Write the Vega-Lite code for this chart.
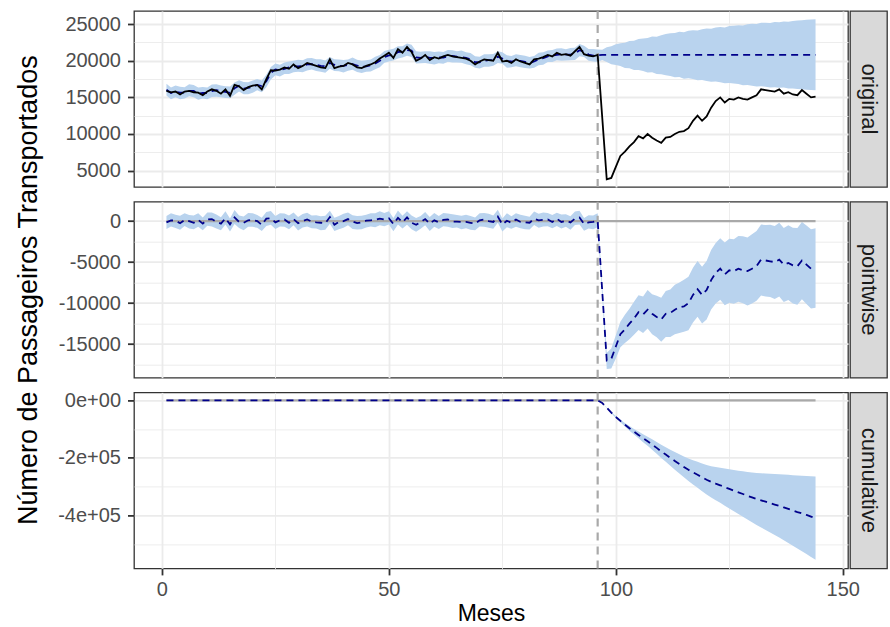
{
  "$schema": "https://vega.github.io/schema/vega-lite/v6.json",
  "background": "white",
  "padding": {"left": 13, "top": 9, "right": 0, "bottom": 0},
  "datasets": {
    "base": [{"t": 1, "base": 0}, {"t": 144, "base": 0}],
    "d": [
      {"t":1,"obs":15900,"pred":16050,"plo":15270,"phi":16870,"pw":-150,"pwlo":-970,"pwhi":630,"cum":0,"cumlo":0,"cumhi":0},
      {"t":2,"obs":15700,"pred":15600,"plo":14750,"phi":16360,"pw":100,"pwlo":-660,"pwhi":950,"cum":0,"cumlo":0,"cumhi":0},
      {"t":3,"obs":15800,"pred":15750,"plo":15030,"phi":16630,"pw":50,"pwlo":-830,"pwhi":770,"cum":0,"cumlo":0,"cumhi":0},
      {"t":4,"obs":15400,"pred":15650,"plo":14750,"phi":16450,"pw":-250,"pwlo":-1050,"pwhi":650,"cum":0,"cumlo":0,"cumhi":0},
      {"t":5,"obs":15800,"pred":15650,"plo":14850,"phi":16390,"pw":150,"pwlo":-590,"pwhi":950,"cum":0,"cumlo":0,"cumhi":0},
      {"t":6,"obs":15900,"pred":15900,"plo":15140,"phi":16800,"pw":0,"pwlo":-900,"pwhi":760,"cum":0,"cumlo":0,"cumhi":0},
      {"t":7,"obs":15700,"pred":15900,"plo":15020,"phi":16680,"pw":-200,"pwlo":-980,"pwhi":680,"cum":0,"cumlo":0,"cumhi":0},
      {"t":8,"obs":15650,"pred":15500,"plo":14680,"phi":16350,"pw":150,"pwlo":-700,"pwhi":970,"cum":0,"cumlo":0,"cumhi":0},
      {"t":9,"obs":15300,"pred":15600,"plo":14860,"phi":16420,"pw":-300,"pwlo":-1120,"pwhi":440,"cum":0,"cumlo":0,"cumhi":0},
      {"t":10,"obs":15800,"pred":15600,"plo":14740,"phi":16360,"pw":200,"pwlo":-560,"pwhi":1060,"cum":0,"cumlo":0,"cumhi":0},
      {"t":11,"obs":16100,"pred":15850,"plo":15050,"phi":16750,"pw":250,"pwlo":-650,"pwhi":1050,"cum":0,"cumlo":0,"cumhi":0},
      {"t":12,"obs":15900,"pred":16000,"plo":15100,"phi":16800,"pw":-100,"pwlo":-900,"pwhi":800,"cum":0,"cumlo":0,"cumhi":0},
      {"t":13,"obs":15500,"pred":15800,"plo":15020,"phi":16620,"pw":-300,"pwlo":-1120,"pwhi":480,"cum":0,"cumlo":0,"cumhi":0},
      {"t":14,"obs":16100,"pred":15750,"plo":14900,"phi":16510,"pw":350,"pwlo":-410,"pwhi":1200,"cum":0,"cumlo":0,"cumhi":0},
      {"t":15,"obs":15200,"pred":15600,"plo":14880,"phi":16480,"pw":-400,"pwlo":-1280,"pwhi":320,"cum":0,"cumlo":0,"cumhi":0},
      {"t":16,"obs":16700,"pred":16250,"plo":15350,"phi":17050,"pw":450,"pwlo":-350,"pwhi":1350,"cum":0,"cumlo":0,"cumhi":0},
      {"t":17,"obs":16500,"pred":16600,"plo":15800,"phi":17340,"pw":-100,"pwlo":-840,"pwhi":700,"cum":0,"cumlo":0,"cumhi":0},
      {"t":18,"obs":16000,"pred":16200,"plo":15440,"phi":17100,"pw":-200,"pwlo":-1100,"pwhi":560,"cum":0,"cumlo":0,"cumhi":0},
      {"t":19,"obs":16400,"pred":16300,"plo":15420,"phi":17080,"pw":100,"pwlo":-680,"pwhi":980,"cum":0,"cumlo":0,"cumhi":0},
      {"t":20,"obs":16600,"pred":16450,"plo":15630,"phi":17300,"pw":150,"pwlo":-700,"pwhi":970,"cum":0,"cumlo":0,"cumhi":0},
      {"t":21,"obs":16700,"pred":16700,"plo":15960,"phi":17520,"pw":0,"pwlo":-820,"pwhi":740,"cum":0,"cumlo":0,"cumhi":0},
      {"t":22,"obs":16100,"pred":16550,"plo":15690,"phi":17310,"pw":-450,"pwlo":-1210,"pwhi":410,"cum":0,"cumlo":0,"cumhi":0},
      {"t":23,"obs":17500,"pred":17200,"plo":16400,"phi":18100,"pw":300,"pwlo":-600,"pwhi":1100,"cum":0,"cumlo":0,"cumhi":0},
      {"t":24,"obs":18700,"pred":18350,"plo":17450,"phi":19150,"pw":350,"pwlo":-450,"pwhi":1250,"cum":0,"cumlo":0,"cumhi":0},
      {"t":25,"obs":18650,"pred":18800,"plo":18020,"phi":19620,"pw":-150,"pwlo":-970,"pwhi":630,"cum":0,"cumlo":0,"cumhi":0},
      {"t":26,"obs":18800,"pred":18700,"plo":17850,"phi":19460,"pw":100,"pwlo":-660,"pwhi":950,"cum":0,"cumlo":0,"cumhi":0},
      {"t":27,"obs":19100,"pred":18900,"plo":18180,"phi":19780,"pw":200,"pwlo":-680,"pwhi":920,"cum":0,"cumlo":0,"cumhi":0},
      {"t":28,"obs":18900,"pred":19100,"plo":18200,"phi":19900,"pw":-200,"pwlo":-1000,"pwhi":700,"cum":0,"cumlo":0,"cumhi":0},
      {"t":29,"obs":19500,"pred":19250,"plo":18450,"phi":19990,"pw":250,"pwlo":-490,"pwhi":1050,"cum":0,"cumlo":0,"cumhi":0},
      {"t":30,"obs":19000,"pred":19250,"plo":18490,"phi":20150,"pw":-250,"pwlo":-1150,"pwhi":510,"cum":0,"cumlo":0,"cumhi":0},
      {"t":31,"obs":19300,"pred":19300,"plo":18420,"phi":20080,"pw":0,"pwlo":-780,"pwhi":880,"cum":0,"cumlo":0,"cumhi":0},
      {"t":32,"obs":19700,"pred":19500,"plo":18680,"phi":20350,"pw":200,"pwlo":-650,"pwhi":1020,"cum":0,"cumlo":0,"cumhi":0},
      {"t":33,"obs":19500,"pred":19550,"plo":18810,"phi":20370,"pw":-50,"pwlo":-870,"pwhi":690,"cum":0,"cumlo":0,"cumhi":0},
      {"t":34,"obs":19300,"pred":19450,"plo":18590,"phi":20210,"pw":-150,"pwlo":-910,"pwhi":710,"cum":0,"cumlo":0,"cumhi":0},
      {"t":35,"obs":19100,"pred":19300,"plo":18500,"phi":20200,"pw":-200,"pwlo":-1100,"pwhi":600,"cum":0,"cumlo":0,"cumhi":0},
      {"t":36,"obs":19000,"pred":19250,"plo":18350,"phi":20050,"pw":-250,"pwlo":-1050,"pwhi":650,"cum":0,"cumlo":0,"cumhi":0},
      {"t":37,"obs":20200,"pred":19700,"plo":18920,"phi":20520,"pw":500,"pwlo":-320,"pwhi":1280,"cum":0,"cumlo":0,"cumhi":0},
      {"t":38,"obs":19000,"pred":19450,"plo":18600,"phi":20210,"pw":-450,"pwlo":-1210,"pwhi":400,"cum":0,"cumlo":0,"cumhi":0},
      {"t":39,"obs":19200,"pred":19300,"plo":18580,"phi":20180,"pw":-100,"pwlo":-980,"pwhi":620,"cum":0,"cumlo":0,"cumhi":0},
      {"t":40,"obs":19300,"pred":19300,"plo":18400,"phi":20100,"pw":0,"pwlo":-800,"pwhi":900,"cum":0,"cumlo":0,"cumhi":0},
      {"t":41,"obs":19700,"pred":19450,"plo":18650,"phi":20190,"pw":250,"pwlo":-490,"pwhi":1050,"cum":0,"cumlo":0,"cumhi":0},
      {"t":42,"obs":19500,"pred":19550,"plo":18790,"phi":20450,"pw":-50,"pwlo":-950,"pwhi":710,"cum":0,"cumlo":0,"cumhi":0},
      {"t":43,"obs":19100,"pred":19350,"plo":18470,"phi":20130,"pw":-250,"pwlo":-1030,"pwhi":630,"cum":0,"cumlo":0,"cumhi":0},
      {"t":44,"obs":19000,"pred":19150,"plo":18330,"phi":20000,"pw":-150,"pwlo":-1000,"pwhi":670,"cum":0,"cumlo":0,"cumhi":0},
      {"t":45,"obs":19300,"pred":19250,"plo":18510,"phi":20070,"pw":50,"pwlo":-770,"pwhi":790,"cum":0,"cumlo":0,"cumhi":0},
      {"t":46,"obs":19500,"pred":19400,"plo":18540,"phi":20160,"pw":100,"pwlo":-660,"pwhi":960,"cum":0,"cumlo":0,"cumhi":0},
      {"t":47,"obs":19800,"pred":19650,"plo":18850,"phi":20550,"pw":150,"pwlo":-750,"pwhi":950,"cum":0,"cumlo":0,"cumhi":0},
      {"t":48,"obs":20300,"pred":20000,"plo":19100,"phi":20800,"pw":300,"pwlo":-500,"pwhi":1200,"cum":0,"cumlo":0,"cumhi":0},
      {"t":49,"obs":20700,"pred":20500,"plo":19720,"phi":21320,"pw":200,"pwlo":-620,"pwhi":980,"cum":0,"cumlo":0,"cumhi":0},
      {"t":50,"obs":21100,"pred":20750,"plo":19900,"phi":21510,"pw":350,"pwlo":-410,"pwhi":1200,"cum":0,"cumlo":0,"cumhi":0},
      {"t":51,"obs":20400,"pred":20750,"plo":20030,"phi":21630,"pw":-350,"pwlo":-1230,"pwhi":370,"cum":0,"cumlo":0,"cumhi":0},
      {"t":52,"obs":21600,"pred":21200,"plo":20300,"phi":22000,"pw":400,"pwlo":-400,"pwhi":1300,"cum":0,"cumlo":0,"cumhi":0},
      {"t":53,"obs":21100,"pred":21250,"plo":20450,"phi":21990,"pw":-150,"pwlo":-890,"pwhi":650,"cum":0,"cumlo":0,"cumhi":0},
      {"t":54,"obs":21900,"pred":21450,"plo":20690,"phi":22350,"pw":450,"pwlo":-450,"pwhi":1210,"cum":0,"cumlo":0,"cumhi":0},
      {"t":55,"obs":21200,"pred":21400,"plo":20520,"phi":22180,"pw":-200,"pwlo":-980,"pwhi":680,"cum":0,"cumlo":0,"cumhi":0},
      {"t":56,"obs":20000,"pred":20450,"plo":19630,"phi":21300,"pw":-450,"pwlo":-1300,"pwhi":370,"cum":0,"cumlo":0,"cumhi":0},
      {"t":57,"obs":20300,"pred":20400,"plo":19660,"phi":21220,"pw":-100,"pwlo":-920,"pwhi":640,"cum":0,"cumlo":0,"cumhi":0},
      {"t":58,"obs":20800,"pred":20550,"plo":19690,"phi":21310,"pw":250,"pwlo":-510,"pwhi":1110,"cum":0,"cumlo":0,"cumhi":0},
      {"t":59,"obs":20100,"pred":20400,"plo":19600,"phi":21300,"pw":-300,"pwlo":-1200,"pwhi":500,"cum":0,"cumlo":0,"cumhi":0},
      {"t":60,"obs":20500,"pred":20400,"plo":19500,"phi":21200,"pw":100,"pwlo":-700,"pwhi":1000,"cum":0,"cumlo":0,"cumhi":0},
      {"t":61,"obs":20300,"pred":20450,"plo":19670,"phi":21270,"pw":-150,"pwlo":-970,"pwhi":630,"cum":0,"cumlo":0,"cumhi":0},
      {"t":62,"obs":20600,"pred":20450,"plo":19600,"phi":21210,"pw":150,"pwlo":-610,"pwhi":1000,"cum":0,"cumlo":0,"cumhi":0},
      {"t":63,"obs":20800,"pred":20600,"plo":19880,"phi":21480,"pw":200,"pwlo":-680,"pwhi":920,"cum":0,"cumlo":0,"cumhi":0},
      {"t":64,"obs":20600,"pred":20650,"plo":19750,"phi":21450,"pw":-50,"pwlo":-850,"pwhi":850,"cum":0,"cumlo":0,"cumhi":0},
      {"t":65,"obs":20500,"pred":20550,"plo":19750,"phi":21290,"pw":-50,"pwlo":-790,"pwhi":750,"cum":0,"cumlo":0,"cumhi":0},
      {"t":66,"obs":20400,"pred":20500,"plo":19740,"phi":21400,"pw":-100,"pwlo":-1000,"pwhi":660,"cum":0,"cumlo":0,"cumhi":0},
      {"t":67,"obs":20300,"pred":20400,"plo":19520,"phi":21180,"pw":-100,"pwlo":-880,"pwhi":780,"cum":0,"cumlo":0,"cumhi":0},
      {"t":68,"obs":20000,"pred":20200,"plo":19380,"phi":21050,"pw":-200,"pwlo":-1050,"pwhi":620,"cum":0,"cumlo":0,"cumhi":0},
      {"t":69,"obs":19500,"pred":19800,"plo":19060,"phi":20620,"pw":-300,"pwlo":-1120,"pwhi":440,"cum":0,"cumlo":0,"cumhi":0},
      {"t":70,"obs":19900,"pred":19800,"plo":18940,"phi":20560,"pw":100,"pwlo":-660,"pwhi":960,"cum":0,"cumlo":0,"cumhi":0},
      {"t":71,"obs":20200,"pred":20000,"plo":19200,"phi":20900,"pw":200,"pwlo":-700,"pwhi":1000,"cum":0,"cumlo":0,"cumhi":0},
      {"t":72,"obs":20100,"pred":20100,"plo":19200,"phi":20900,"pw":0,"pwlo":-800,"pwhi":900,"cum":0,"cumlo":0,"cumhi":0},
      {"t":73,"obs":20000,"pred":20100,"plo":19320,"phi":20920,"pw":-100,"pwlo":-920,"pwhi":680,"cum":0,"cumlo":0,"cumhi":0},
      {"t":74,"obs":21100,"pred":20550,"plo":19700,"phi":21310,"pw":550,"pwlo":-210,"pwhi":1400,"cum":0,"cumlo":0,"cumhi":0},
      {"t":75,"obs":19900,"pred":20300,"plo":19580,"phi":21180,"pw":-400,"pwlo":-1280,"pwhi":320,"cum":0,"cumlo":0,"cumhi":0},
      {"t":76,"obs":20000,"pred":19950,"plo":19050,"phi":20750,"pw":50,"pwlo":-750,"pwhi":950,"cum":0,"cumlo":0,"cumhi":0},
      {"t":77,"obs":19700,"pred":19900,"plo":19100,"phi":20640,"pw":-200,"pwlo":-940,"pwhi":600,"cum":0,"cumlo":0,"cumhi":0},
      {"t":78,"obs":20200,"pred":20000,"plo":19240,"phi":20900,"pw":200,"pwlo":-700,"pwhi":960,"cum":0,"cumlo":0,"cumhi":0},
      {"t":79,"obs":19900,"pred":20000,"plo":19120,"phi":20780,"pw":-100,"pwlo":-880,"pwhi":780,"cum":0,"cumlo":0,"cumhi":0},
      {"t":80,"obs":19700,"pred":19850,"plo":19030,"phi":20700,"pw":-150,"pwlo":-1000,"pwhi":670,"cum":0,"cumlo":0,"cumhi":0},
      {"t":81,"obs":19500,"pred":19700,"plo":18960,"phi":20520,"pw":-200,"pwlo":-1020,"pwhi":540,"cum":0,"cumlo":0,"cumhi":0},
      {"t":82,"obs":20200,"pred":19900,"plo":19040,"phi":20660,"pw":300,"pwlo":-460,"pwhi":1160,"cum":0,"cumlo":0,"cumhi":0},
      {"t":83,"obs":20300,"pred":20200,"plo":19400,"phi":21100,"pw":100,"pwlo":-800,"pwhi":900,"cum":0,"cumlo":0,"cumhi":0},
      {"t":84,"obs":20500,"pred":20350,"plo":19450,"phi":21150,"pw":150,"pwlo":-650,"pwhi":1050,"cum":0,"cumlo":0,"cumhi":0},
      {"t":85,"obs":20800,"pred":20600,"plo":19820,"phi":21420,"pw":200,"pwlo":-620,"pwhi":980,"cum":0,"cumlo":0,"cumhi":0},
      {"t":86,"obs":20600,"pred":20700,"plo":19850,"phi":21460,"pw":-100,"pwlo":-860,"pwhi":750,"cum":0,"cumlo":0,"cumhi":0},
      {"t":87,"obs":21100,"pred":20800,"plo":20080,"phi":21680,"pw":300,"pwlo":-580,"pwhi":1020,"cum":0,"cumlo":0,"cumhi":0},
      {"t":88,"obs":20800,"pred":20900,"plo":20000,"phi":21700,"pw":-100,"pwlo":-900,"pwhi":800,"cum":0,"cumlo":0,"cumhi":0},
      {"t":89,"obs":20900,"pred":20850,"plo":20050,"phi":21590,"pw":50,"pwlo":-690,"pwhi":850,"cum":0,"cumlo":0,"cumhi":0},
      {"t":90,"obs":20700,"pred":20850,"plo":20090,"phi":21750,"pw":-150,"pwlo":-1050,"pwhi":610,"cum":0,"cumlo":0,"cumhi":0},
      {"t":91,"obs":21300,"pred":21000,"plo":20120,"phi":21780,"pw":300,"pwlo":-480,"pwhi":1180,"cum":0,"cumlo":0,"cumhi":0},
      {"t":92,"obs":21900,"pred":21450,"plo":20630,"phi":22300,"pw":450,"pwlo":-400,"pwhi":1270,"cum":0,"cumlo":0,"cumhi":0},
      {"t":93,"obs":20900,"pred":21250,"plo":20510,"phi":22070,"pw":-350,"pwlo":-1170,"pwhi":390,"cum":0,"cumlo":0,"cumhi":0},
      {"t":94,"obs":20700,"pred":20850,"plo":19990,"phi":21610,"pw":-150,"pwlo":-910,"pwhi":710,"cum":0,"cumlo":0,"cumhi":0},
      {"t":95,"obs":20600,"pred":20700,"plo":19900,"phi":21600,"pw":-100,"pwlo":-1000,"pwhi":700,"cum":0,"cumlo":0,"cumhi":0},
      {"t":96,"obs":20800,"pred":20750,"plo":19850,"phi":21550,"pw":50,"pwlo":-750,"pwhi":950,"cum":0,"cumlo":0,"cumhi":0},
      {"t":97,"obs":12300,"pred":20800,"plo":20120,"phi":21520,"pw":-8500,"pwlo":-9220,"pwhi":-7820,"cum":-8500,"cumlo":-8900,"cumhi":-8100},
      {"t":98,"obs":3800,"pred":20800,"plo":19850,"phi":21850,"pw":-17000,"pwlo":-18050,"pwhi":-16050,"cum":-25500,"cumlo":-26700,"cumhi":-24300},
      {"t":99,"obs":4000,"pred":20800,"plo":19540,"phi":21980,"pw":-16800,"pwlo":-17980,"pwhi":-15540,"cum":-42300,"cumlo":-44600,"cumhi":-40000},
      {"t":100,"obs":5500,"pred":20800,"plo":19420,"phi":22250,"pw":-15300,"pwlo":-16750,"pwhi":-13920,"cum":-57600,"cumlo":-61100,"cumhi":-54100},
      {"t":101,"obs":7000,"pred":20800,"plo":19280,"phi":22400,"pw":-13800,"pwlo":-15400,"pwhi":-12280,"cum":-71400,"cumlo":-76300,"cumhi":-66500},
      {"t":102,"obs":7600,"pred":20800,"plo":19020,"phi":22480,"pw":-13200,"pwlo":-14880,"pwhi":-11420,"cum":-84600,"cumlo":-91000,"cumhi":-78200},
      {"t":103,"obs":8300,"pred":20800,"plo":18980,"phi":22700,"pw":-12500,"pwlo":-14400,"pwhi":-10680,"cum":-97100,"cumlo":-105200,"cumhi":-89000},
      {"t":104,"obs":8900,"pred":20800,"plo":18750,"phi":22750,"pw":-11900,"pwlo":-13850,"pwhi":-9850,"cum":-109000,"cumlo":-118900,"cumhi":-99100},
      {"t":105,"obs":9700,"pred":20800,"plo":18740,"phi":22980,"pw":-11100,"pwlo":-13280,"pwhi":-9040,"cum":-120100,"cumlo":-131900,"cumhi":-108300},
      {"t":106,"obs":9400,"pred":20800,"plo":18600,"phi":23050,"pw":-11400,"pwlo":-13650,"pwhi":-9200,"cum":-131500,"cumlo":-145300,"cumhi":-117700},
      {"t":107,"obs":10000,"pred":20800,"plo":18400,"phi":23100,"pw":-10800,"pwlo":-13100,"pwhi":-8400,"cum":-142300,"cumlo":-158200,"cumhi":-126400},
      {"t":108,"obs":9500,"pred":20800,"plo":18420,"phi":23300,"pw":-11300,"pwlo":-13800,"pwhi":-8920,"cum":-153600,"cumlo":-171700,"cumhi":-135500},
      {"t":109,"obs":9100,"pred":20800,"plo":18200,"phi":23280,"pw":-11700,"pwlo":-14180,"pwhi":-9100,"cum":-165300,"cumlo":-185700,"cumhi":-144900},
      {"t":110,"obs":8800,"pred":20800,"plo":18150,"phi":23500,"pw":-12000,"pwlo":-14700,"pwhi":-9350,"cum":-177300,"cumlo":-200100,"cumhi":-154500},
      {"t":111,"obs":9500,"pred":20800,"plo":18020,"phi":23650,"pw":-11300,"pwlo":-14150,"pwhi":-8520,"cum":-188600,"cumlo":-213900,"cumhi":-163300},
      {"t":112,"obs":9600,"pred":20800,"plo":17930,"phi":23750,"pw":-11200,"pwlo":-14150,"pwhi":-8330,"cum":-199800,"cumlo":-227700,"cumhi":-171900},
      {"t":113,"obs":10000,"pred":20800,"plo":17750,"phi":23800,"pw":-10800,"pwlo":-13800,"pwhi":-7750,"cum":-210600,"cumlo":-241200,"cumhi":-180000},
      {"t":114,"obs":10300,"pred":20800,"plo":17780,"phi":23950,"pw":-10500,"pwlo":-13650,"pwhi":-7480,"cum":-221100,"cumlo":-254400,"cumhi":-187800},
      {"t":115,"obs":10400,"pred":20800,"plo":17550,"phi":23900,"pw":-10400,"pwlo":-13500,"pwhi":-7150,"cum":-231500,"cumlo":-267600,"cumhi":-195400},
      {"t":116,"obs":10800,"pred":20800,"plo":17600,"phi":24100,"pw":-10000,"pwlo":-13300,"pwhi":-6800,"cum":-241500,"cumlo":-280500,"cumhi":-202500},
      {"t":117,"obs":11800,"pred":20800,"plo":17500,"phi":24180,"pw":-9000,"pwlo":-12380,"pwhi":-5700,"cum":-250500,"cumlo":-292500,"cumhi":-208500},
      {"t":118,"obs":12500,"pred":20800,"plo":17350,"phi":24150,"pw":-8300,"pwlo":-11650,"pwhi":-4850,"cum":-258800,"cumlo":-303800,"cumhi":-213800},
      {"t":119,"obs":11800,"pred":20800,"plo":17380,"phi":24300,"pw":-9000,"pwlo":-12500,"pwhi":-5580,"cum":-267800,"cumlo":-315900,"cumhi":-219700},
      {"t":120,"obs":12400,"pred":20800,"plo":17250,"phi":24400,"pw":-8400,"pwlo":-12000,"pwhi":-4850,"cum":-276200,"cumlo":-327500,"cumhi":-224900},
      {"t":121,"obs":13600,"pred":20800,"plo":17120,"phi":24380,"pw":-7200,"pwlo":-10780,"pwhi":-3520,"cum":-283400,"cumlo":-337900,"cumhi":-228900},
      {"t":122,"obs":14500,"pred":20800,"plo":17160,"phi":24550,"pw":-6300,"pwlo":-10050,"pwhi":-2660,"cum":-289700,"cumlo":-347500,"cumhi":-231900},
      {"t":123,"obs":15000,"pred":20800,"plo":17080,"phi":24600,"pw":-5800,"pwlo":-9600,"pwhi":-2080,"cum":-295500,"cumlo":-356700,"cumhi":-234300},
      {"t":124,"obs":14300,"pred":20800,"plo":16920,"phi":24560,"pw":-6500,"pwlo":-10260,"pwhi":-2620,"cum":-302000,"cumlo":-366600,"cumhi":-237400},
      {"t":125,"obs":14800,"pred":20800,"plo":16950,"phi":24750,"pw":-6000,"pwlo":-9950,"pwhi":-2150,"cum":-308000,"cumlo":-376100,"cumhi":-239900},
      {"t":126,"obs":14700,"pred":20800,"plo":16900,"phi":24780,"pw":-6100,"pwlo":-10080,"pwhi":-2200,"cum":-314100,"cumlo":-385700,"cumhi":-242500},
      {"t":127,"obs":15000,"pred":20800,"plo":16820,"phi":24850,"pw":-5800,"pwlo":-9850,"pwhi":-1820,"cum":-319900,"cumlo":-395200,"cumhi":-244600},
      {"t":128,"obs":14800,"pred":20800,"plo":16650,"phi":24820,"pw":-6000,"pwlo":-10020,"pwhi":-1850,"cum":-325900,"cumlo":-404800,"cumhi":-247000},
      {"t":129,"obs":14700,"pred":20800,"plo":16700,"phi":25000,"pw":-6100,"pwlo":-10300,"pwhi":-2000,"cum":-332000,"cumlo":-414700,"cumhi":-249300},
      {"t":130,"obs":15000,"pred":20800,"plo":16600,"phi":25050,"pw":-5800,"pwlo":-10050,"pwhi":-1600,"cum":-337800,"cumlo":-424200,"cumhi":-251400},
      {"t":131,"obs":15300,"pred":20800,"plo":16500,"phi":25020,"pw":-5500,"pwlo":-9720,"pwhi":-1200,"cum":-343300,"cumlo":-433600,"cumhi":-253000},
      {"t":132,"obs":16100,"pred":20800,"plo":16520,"phi":25180,"pw":-4700,"pwlo":-9080,"pwhi":-420,"cum":-348000,"cumlo":-442200,"cumhi":-253800},
      {"t":133,"obs":16000,"pred":20800,"plo":16470,"phi":25200,"pw":-4800,"pwlo":-9200,"pwhi":-470,"cum":-352800,"cumlo":-450900,"cumhi":-254700},
      {"t":134,"obs":15900,"pred":20800,"plo":16350,"phi":25160,"pw":-4900,"pwlo":-9260,"pwhi":-450,"cum":-357700,"cumlo":-459800,"cumhi":-255600},
      {"t":135,"obs":15800,"pred":20800,"plo":16400,"phi":25300,"pw":-5000,"pwlo":-9500,"pwhi":-600,"cum":-362700,"cumlo":-468900,"cumhi":-256500},
      {"t":136,"obs":16100,"pred":20800,"plo":16300,"phi":25280,"pw":-4700,"pwlo":-9180,"pwhi":-200,"cum":-367400,"cumlo":-477700,"cumhi":-257100},
      {"t":137,"obs":15500,"pred":20800,"plo":16350,"phi":25360,"pw":-5300,"pwlo":-9860,"pwhi":-850,"cum":-372700,"cumlo":-487200,"cumhi":-258200},
      {"t":138,"obs":15700,"pred":20800,"plo":16200,"phi":25320,"pw":-5100,"pwlo":-9620,"pwhi":-500,"cum":-377800,"cumlo":-496500,"cumhi":-259100},
      {"t":139,"obs":15400,"pred":20800,"plo":16220,"phi":25450,"pw":-5400,"pwlo":-10050,"pwhi":-820,"cum":-383200,"cumlo":-506100,"cumhi":-260300},
      {"t":140,"obs":15300,"pred":20800,"plo":16150,"phi":25500,"pw":-5500,"pwlo":-10200,"pwhi":-850,"cum":-388700,"cumlo":-516000,"cumhi":-261400},
      {"t":141,"obs":16000,"pred":20800,"plo":16100,"phi":25520,"pw":-4800,"pwlo":-9520,"pwhi":-100,"cum":-393500,"cumlo":-525100,"cumhi":-261900},
      {"t":142,"obs":15500,"pred":20800,"plo":16040,"phi":25600,"pw":-5300,"pwlo":-10100,"pwhi":-540,"cum":-398800,"cumlo":-534800,"cumhi":-262800},
      {"t":143,"obs":15000,"pred":20800,"plo":16000,"phi":25650,"pw":-5800,"pwlo":-10650,"pwhi":-1000,"cum":-404600,"cumlo":-545100,"cumhi":-264100},
      {"t":144,"obs":15100,"pred":20800,"plo":15980,"phi":25680,"pw":-5700,"pwlo":-10580,"pwhi":-880,"cum":-410300,"cumlo":-555300,"cumhi":-265300}
    ]
  },
  "columns": 2,
  "spacing": {"row": 14.7, "column": 2},
  "bounds": "flush",
  "align": "each",
  "resolve": {"scale": {"x": "independent", "y": "independent"}},
  "concat": [
    {
      "width": 714, "height": 176,
      "data": {"name": "d"},
      "encoding": {
        "x": {"field": "t", "type": "quantitative", "title": null,
          "scale": {"domain": [-6.15, 151.15], "nice": false, "zero": false},
          "axis": {"values": [0, 25, 50, 75, 100, 125, 150], "tickCount": 50, "labels": false, "ticks": false, "title": null,
            "gridWidth": {"condition": {"test": "abs(datum.value) % 50 > 1", "value": 0.9}, "value": 1.8}}}
      },
      "layer": [
        {"mark": {"type": "area", "color": "#B9D3EE"},
         "encoding": {
           "y": {"field": "plo", "type": "quantitative", "title": null,
             "scale": {"domain": [2760, 26800], "nice": false, "zero": false},
             "axis": {"values": [5000, 7500, 10000, 12500, 15000, 17500, 20000, 22500, 25000], "tickCount": 50, "title": null,
               "labelExpr": "abs(datum.value) % 5000 > 1 ? '' : '' + datum.value",
               "tickOpacity": {"condition": {"test": "abs(datum.value) % 5000 > 1", "value": 0}, "value": 1},
               "gridWidth": {"condition": {"test": "abs(datum.value) % 5000 > 1", "value": 0.9}, "value": 1.8}}},
           "y2": {"field": "phi"}}},
        {"data": {"values": [{"cut": 96}]},
         "mark": {"type": "rule", "color": "#A9A9A9", "strokeWidth": 2.2, "strokeDash": [8, 6]},
         "encoding": {"x": {"field": "cut", "type": "quantitative", "title": null}}},
        {"mark": {"type": "line", "color": "#00008B", "strokeWidth": 1.8, "strokeDash": [7, 5]},
         "encoding": {"y": {"field": "pred", "type": "quantitative", "title": null}}},
        {"mark": {"type": "line", "color": "#000000", "strokeWidth": 1.8},
         "encoding": {"y": {"field": "obs", "type": "quantitative", "title": null}}}
      ]
    },
    {
      "width": 37, "height": 176,
      "view": {"fill": "#D9D9D9", "stroke": "#333333", "strokeWidth": 1.3},
      "data": {"values": [{"label": "original"}]},
      "mark": {"type": "text", "angle": 90, "fontSize": 22, "font": "Liberation Sans", "color": "#1A1A1A"},
      "encoding": {"text": {"field": "label"}}
    },
    {
      "width": 714, "height": 176,
      "data": {"name": "d"},
      "encoding": {
        "x": {"field": "t", "type": "quantitative", "title": null,
          "scale": {"domain": [-6.15, 151.15], "nice": false, "zero": false},
          "axis": {"values": [0, 25, 50, 75, 100, 125, 150], "tickCount": 50, "labels": false, "ticks": false, "title": null,
            "gridWidth": {"condition": {"test": "abs(datum.value) % 50 > 1", "value": 0.9}, "value": 1.8}}}
      },
      "layer": [
        {"mark": {"type": "area", "color": "#B9D3EE"},
         "encoding": {
           "y": {"field": "pwlo", "type": "quantitative", "title": "Número de Passageiros Transportados",
             "scale": {"domain": [-19100, 2370], "nice": false, "zero": false},
             "axis": {"values": [-17500, -15000, -12500, -10000, -7500, -5000, -2500, 0], "tickCount": 50,
               "title": "Número de Passageiros Transportados", "titleFontSize": 27, "titlePadding": 16,
               "labelExpr": "abs(datum.value) % 5000 > 1 ? '' : (datum.value < 0 ? '-' + abs(datum.value) : '0')",
               "tickOpacity": {"condition": {"test": "abs(datum.value) % 5000 > 1", "value": 0}, "value": 1},
               "gridWidth": {"condition": {"test": "abs(datum.value) % 5000 > 1", "value": 0.9}, "value": 1.8}}},
           "y2": {"field": "pwhi"}}},
        {"data": {"values": [{"cut": 96}]},
         "mark": {"type": "rule", "color": "#A9A9A9", "strokeWidth": 2.2, "strokeDash": [8, 6]},
         "encoding": {"x": {"field": "cut", "type": "quantitative", "title": null}}},
        {"data": {"name": "base"},
         "mark": {"type": "line", "color": "#A9A9A9", "strokeWidth": 2.2},
         "encoding": {"y": {"field": "base", "type": "quantitative", "title": "Número de Passageiros Transportados"}}},
        {"mark": {"type": "line", "color": "#00008B", "strokeWidth": 1.8, "strokeDash": [7, 5]},
         "encoding": {"y": {"field": "pw", "type": "quantitative", "title": "Número de Passageiros Transportados"}}}
      ]
    },
    {
      "width": 37, "height": 176,
      "view": {"fill": "#D9D9D9", "stroke": "#333333", "strokeWidth": 1.3},
      "data": {"values": [{"label": "pointwise"}]},
      "mark": {"type": "text", "angle": 90, "fontSize": 22, "font": "Liberation Sans", "color": "#1A1A1A"},
      "encoding": {"text": {"field": "label"}}
    },
    {
      "width": 714, "height": 176,
      "data": {"name": "d"},
      "encoding": {
        "x": {"field": "t", "type": "quantitative", "title": "Meses",
          "scale": {"domain": [-6.15, 151.15], "nice": false, "zero": false},
          "axis": {"values": [0, 25, 50, 75, 100, 125, 150], "tickCount": 50, "title": "Meses", "titleFontSize": 23, "titlePadding": 3, "labelPadding": 5,
            "labelExpr": "abs(datum.value) % 50 > 1 ? '' : '' + datum.value",
            "tickOpacity": {"condition": {"test": "abs(datum.value) % 50 > 1", "value": 0}, "value": 1},
            "gridWidth": {"condition": {"test": "abs(datum.value) % 50 > 1", "value": 0.9}, "value": 1.8}}}
      },
      "layer": [
        {"mark": {"type": "area", "color": "#B9D3EE"},
         "encoding": {
           "y": {"field": "cumlo", "type": "quantitative", "title": null,
             "scale": {"domain": [-585000, 28000], "nice": false, "zero": false},
             "axis": {"values": [-500000, -400000, -300000, -200000, -100000, 0], "tickCount": 50, "title": null,
               "labelExpr": "abs(datum.value) % 200000 > 1 ? '' : (datum.value < 0 ? '-' + (abs(datum.value) / 100000) + 'e+05' : '0e+00')",
               "tickOpacity": {"condition": {"test": "abs(datum.value) % 200000 > 1", "value": 0}, "value": 1},
               "gridWidth": {"condition": {"test": "abs(datum.value) % 200000 > 1", "value": 0.9}, "value": 1.8}}},
           "y2": {"field": "cumhi"}}},
        {"data": {"values": [{"cut": 96}]},
         "mark": {"type": "rule", "color": "#A9A9A9", "strokeWidth": 2.2, "strokeDash": [8, 6]},
         "encoding": {"x": {"field": "cut", "type": "quantitative", "title": "Meses"}}},
        {"data": {"name": "base"},
         "mark": {"type": "line", "color": "#A9A9A9", "strokeWidth": 2.2},
         "encoding": {"y": {"field": "base", "type": "quantitative", "title": null}}},
        {"mark": {"type": "line", "color": "#00008B", "strokeWidth": 1.8, "strokeDash": [7, 5]},
         "encoding": {"y": {"field": "cum", "type": "quantitative", "title": null}}}
      ]
    },
    {
      "width": 37, "height": 176,
      "view": {"fill": "#D9D9D9", "stroke": "#333333", "strokeWidth": 1.3},
      "data": {"values": [{"label": "cumulative"}]},
      "mark": {"type": "text", "angle": 90, "fontSize": 22, "font": "Liberation Sans", "color": "#1A1A1A"},
      "encoding": {"text": {"field": "label"}}
    }
  ],
  "config": {
    "font": "Liberation Sans",
    "view": {"stroke": "#333333", "strokeWidth": 1.3, "fill": "white"},
    "axis": {
      "labelFont": "Liberation Sans", "labelFontSize": 20, "labelColor": "#4D4D4D",
      "tickColor": "#333333", "tickWidth": 1.8, "tickSize": 6.5, "labelPadding": 7,
      "gridColor": "#EBEBEB", "domain": false,
      "titleFont": "Liberation Sans", "titleFontWeight": "normal", "titleColor": "#000000",
      "labelOverlap": false, "labelFlush": false
    }
  }
}
